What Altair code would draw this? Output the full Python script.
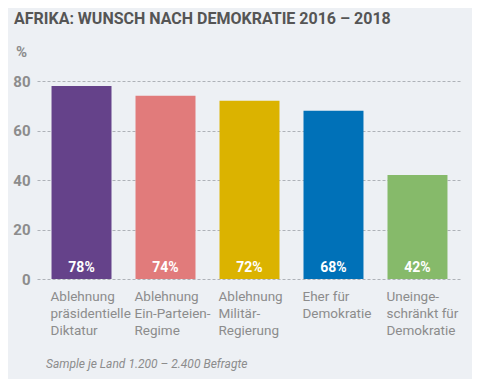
import altair as alt
import pandas as pd

categories = [
    "Ablehnung\npräsidentielle\nDiktatur",
    "Ablehnung\nEin-Parteien-\nRegime",
    "Ablehnung\nMilitär-\nRegierung",
    "Eher für\nDemokratie",
    "Uneinge-\nschränkt für\nDemokratie",
]
values = [78, 74, 72, 68, 42]
colors = ["#65428a", "#e17b7b", "#dbb300", "#0071b8", "#86ba6a"]
y_ticks = [0, 20, 40, 60, 80]

title_text = "AFRIKA: WUNSCH NACH DEMOKRATIE 2016 – 2018"
unit_text = "%"
footer_text = "Sample je Land 1.200 – 2.400 Befragte"

FONT = "Roboto"
BG = "#edf0f4"
GREY = "#8c8c8c"

df = pd.DataFrame({"cat": categories, "val": values})
df["label"] = df["val"].astype(str) + "%"
df["base"] = 0

x_enc = alt.X(
    "cat:N",
    sort=categories,
    scale=alt.Scale(paddingInner=0.286, paddingOuter=0.173),
    axis=alt.Axis(
        title=None,
        labelExpr="split(datum.label, '\\n')",
        labelAlign="left",
        labelBaseline="top",
        labelOffset=-31,
        labelPadding=10,
        labelLineHeight=17,
        labelFontSize=13.5,
        labelFont=FONT,
        labelColor=GREY,
        labelAngle=0,
        labelOverlap=False,
        ticks=False,
        domain=False,
        grid=False,
    ),
)

bars = alt.Chart(df).mark_bar().encode(
    x=x_enc,
    y=alt.Y(
        "val:Q",
        scale=alt.Scale(domain=[0, 80], nice=False),
        axis=alt.Axis(
            title=None,
            values=y_ticks,
            labelFont=FONT,
            labelFontSize=15,
            labelFontWeight="bold",
            labelColor=GREY,
            labelPadding=7,
            ticks=False,
            domain=False,
            grid=True,
            gridColor="#aeb2b8",
            gridDash=[3, 2],
            gridWidth=1,
        ),
    ),
    color=alt.Color("cat:N", sort=categories, scale=alt.Scale(domain=categories, range=colors), legend=None),
)

vals = alt.Chart(df).mark_text(
    font=FONT, fontSize=14, fontWeight="bold", color="white", baseline="alphabetic", dy=-7
).encode(
    x=alt.X("cat:N", sort=categories),
    y=alt.Y("base:Q"),
    text="label:N",
)

ann = pd.DataFrame({"t": [0]})
title = alt.Chart(ann).mark_text(
    text=title_text, font=FONT, fontSize=16, fontWeight="bold", color="#555555", align="left", baseline="alphabetic"
).encode(x=alt.value(-23), y=alt.value(-57))
unit = alt.Chart(ann).mark_text(
    text=unit_text, font=FONT, fontSize=15, fontWeight="bold", color=GREY, align="left", baseline="alphabetic"
).encode(x=alt.value(-21), y=alt.value(-24))
footer = alt.Chart(ann).mark_text(
    text=footer_text, font=FONT, fontSize=12, fontStyle="italic", color=GREY, align="left", baseline="alphabetic"
).encode(x=alt.value(9), y=alt.value(287))

chart = alt.layer(bars, vals, title, unit, footer).properties(
    width=425,
    height=198,
    background=BG,
    padding={"left": 29, "top": 73, "right": 10, "bottom": 100},
    autosize=alt.AutoSizeParams(type="none"),
).configure_view(stroke=None)

chart.save("out.html", embed_options={"renderer": "svg", "actions": False})
